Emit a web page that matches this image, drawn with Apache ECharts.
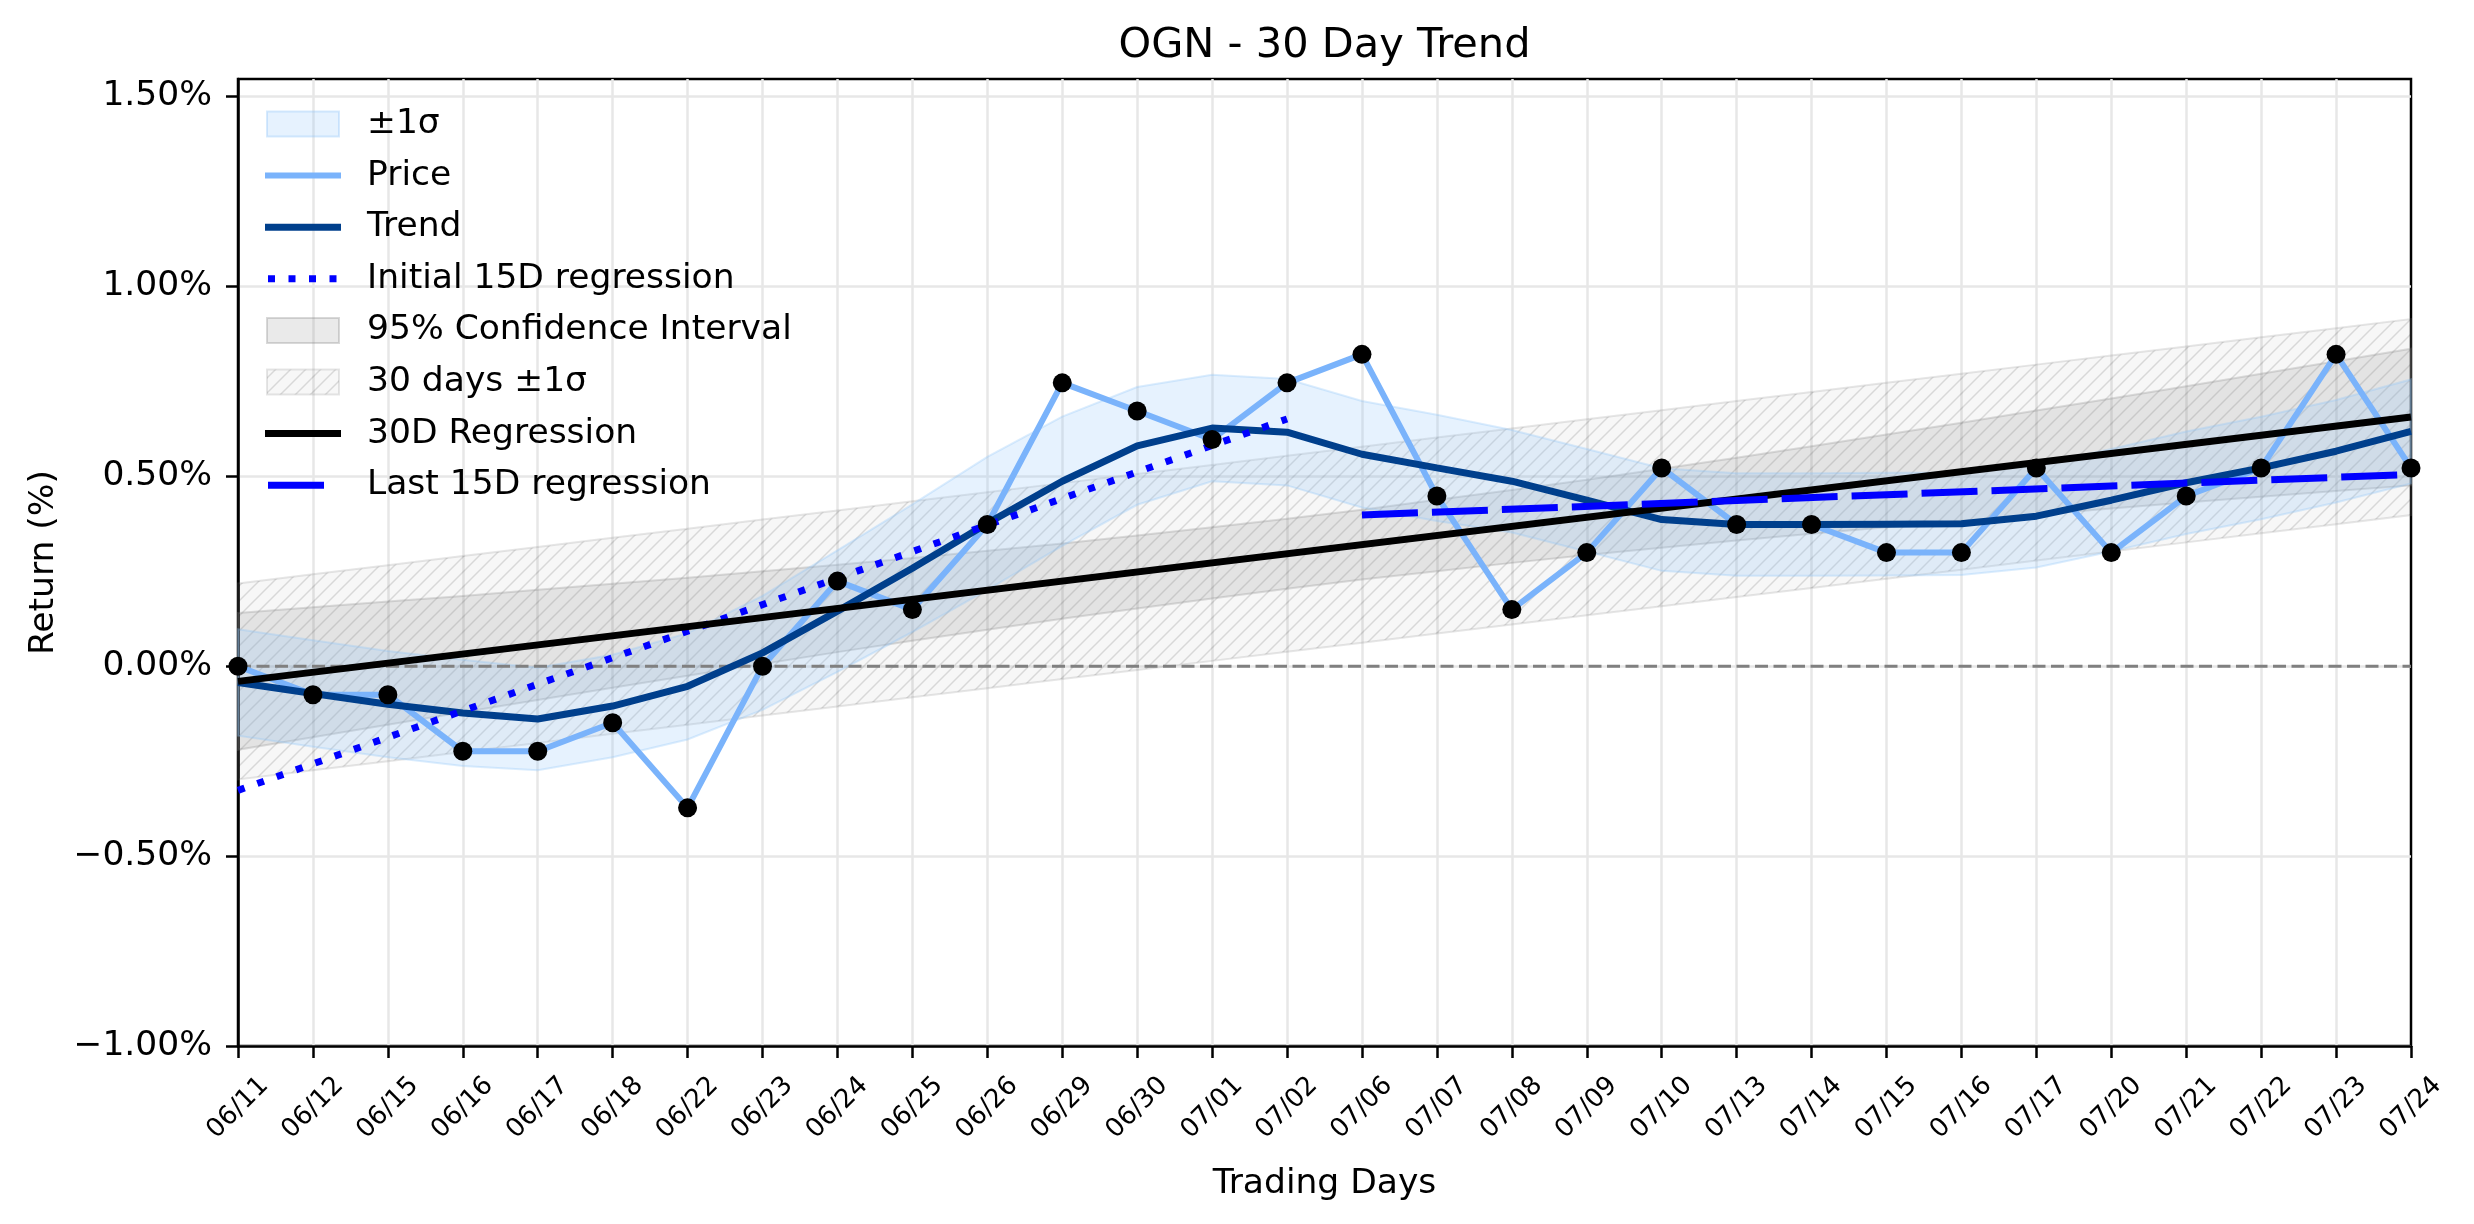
<!DOCTYPE html>
<html>
<head>
<meta charset="utf-8">
<title>OGN - 30 Day Trend</title>
<script src="https://cdn.jsdelivr.net/npm/echarts@6/dist/echarts.min.js"></script>
<style>
	html, body { margin: 0; padding: 0; background: #fff; }
	#chart { width: 2474px; height: 1224px; }
</style>
</head>
<body>
<div id="chart"></div>
<script>
	// trading days (x axis)
	const days = ['06/11', '06/12', '06/15', '06/16', '06/17', '06/18', '06/22', '06/23', '06/24', '06/25',
		'06/26', '06/29', '06/30', '07/01', '07/02', '07/06', '07/07', '07/08', '07/09', '07/10',
		'07/13', '07/14', '07/15', '07/16', '07/17', '07/20', '07/21', '07/22', '07/23', '07/24'];

	// return in %
	const price = [0, -0.075, -0.075, -0.224, -0.224, -0.149, -0.373, 0, 0.224, 0.149,
		0.373, 0.746, 0.672, 0.597, 0.746, 0.821, 0.448, 0.149, 0.299, 0.522,
		0.373, 0.373, 0.299, 0.299, 0.522, 0.299, 0.448, 0.522, 0.821, 0.522];

	const trend = [-0.043, -0.072, -0.100, -0.123, -0.139, -0.105, -0.053, 0.035, 0.145, 0.258,
		0.376, 0.487, 0.580, 0.627, 0.616, 0.558, 0.522, 0.487, 0.437, 0.386,
		0.373, 0.373, 0.374, 0.375, 0.395, 0.437, 0.483, 0.522, 0.566, 0.618];

	// ±1σ band round the trend
	const bandUpper = [0.097, 0.068, 0.040, 0.017, -0.004, 0.030, 0.087, 0.185, 0.305, 0.426,
		0.551, 0.657, 0.735, 0.767, 0.756, 0.698, 0.662, 0.622, 0.572, 0.521,
		0.508, 0.508, 0.509, 0.510, 0.530, 0.572, 0.618, 0.657, 0.701, 0.755];
	const bandLower = [-0.183, -0.212, -0.240, -0.263, -0.274, -0.240, -0.193, -0.115, -0.015, 0.090,
		0.201, 0.317, 0.425, 0.487, 0.476, 0.418, 0.382, 0.352, 0.302, 0.251,
		0.238, 0.238, 0.239, 0.240, 0.260, 0.302, 0.348, 0.387, 0.431, 0.481];

	// 95% confidence interval of the 30D regression
	const ciUpper = [0.140, 0.155, 0.170, 0.185, 0.201, 0.217, 0.233, 0.250, 0.267, 0.285,
		0.304, 0.323, 0.344, 0.366, 0.388, 0.412, 0.438, 0.464, 0.491, 0.520,
		0.549, 0.579, 0.610, 0.641, 0.673, 0.705, 0.737, 0.770, 0.803, 0.836];
	const ciLower = [-0.220, -0.187, -0.154, -0.121, -0.089, -0.057, -0.025, 0.006, 0.037, 0.067,
		0.096, 0.125, 0.152, 0.178, 0.204, 0.228, 0.250, 0.272, 0.293, 0.312,
		0.331, 0.349, 0.366, 0.383, 0.399, 0.415, 0.431, 0.446, 0.461, 0.476];

	// 30 days ±1σ round the 30D regression
	const sigUpper = [0.218, 0.242, 0.266, 0.290, 0.314, 0.338, 0.362, 0.386, 0.410, 0.434,
		0.458, 0.482, 0.506, 0.530, 0.554, 0.578, 0.602, 0.626, 0.650, 0.674,
		0.698, 0.722, 0.746, 0.770, 0.794, 0.818, 0.842, 0.866, 0.890, 0.914];
	const sigLower = [-0.298, -0.274, -0.250, -0.226, -0.202, -0.178, -0.154, -0.130, -0.106, -0.082,
		-0.058, -0.034, -0.010, 0.014, 0.038, 0.062, 0.086, 0.110, 0.134, 0.158,
		0.182, 0.206, 0.230, 0.254, 0.278, 0.302, 0.326, 0.350, 0.374, 0.398];

	// regression lines (end points)
	const reg30Days = ['06/11', '07/24'];
	const reg30 = [-0.040, 0.656];
	const initDays = ['06/11', '07/02'];
	const initReg = [-0.327, 0.651];
	const lastDays = ['07/06', '07/24'];
	const lastReg = [0.398, 0.505];
	const zeroDays = ['06/11', '07/24'];
	const zeroLine = [0, 0];

	const yTicks = [-1, -0.5, 0, 0.5, 1, 1.5];

	const FONT = 'DejaVu Sans';
	const PRICE_COLOR = '#7ab3fb';
	const TREND_COLOR = '#003f8c';
	const BAND_FILL = 'rgba(140, 195, 250, 0.22)';
	const CI_FILL = 'rgba(128, 128, 128, 0.17)';

	// "///" hatch
	function makeHatch () {
		const s = 15;
		const c = document.createElement('canvas');
		c.width = s;
		c.height = s;
		const ctx = c.getContext('2d');
		ctx.fillStyle = 'rgba(0, 0, 0, 0.03)';
		ctx.fillRect(0, 0, s, s);
		ctx.strokeStyle = 'rgba(0, 0, 0, 0.13)';
		ctx.lineWidth = 1.5;
		ctx.beginPath();
		ctx.moveTo(0, s); ctx.lineTo(s, 0);
		ctx.moveTo(-2, 2); ctx.lineTo(2, -2);
		ctx.moveTo(s - 2, s + 2); ctx.lineTo(s + 2, s - 2);
		ctx.stroke();
		return { image: c, repeat: 'repeat' };
	}
	const hatch = makeHatch();

	const pair = (xs, ys) => xs.map((x, i) => [x, ys[i]]);

	function bandSeries (name, upper, lower, style) {
		return {
			name: name,
			type: 'custom',
			silent: true,
			data: upper.map((v, i) => [i, v]),
			renderItem (params, api) {
				if (params.dataIndex !== 0) return null;
				const pts = [];
				for (let i = 0; i < upper.length; i++) pts.push(api.coord([i, upper[i]]));
				for (let i = lower.length - 1; i >= 0; i--) pts.push(api.coord([i, lower[i]]));
				return { type: 'polygon', shape: { points: pts }, style: style };
			}
		};
	}

	function fmtPct (v) {
		if (Math.abs(v * 2 - Math.round(v * 2)) > 1e-6) return '';
		const s = Math.abs(v).toFixed(2) + '%';
		return v < -1e-9 ? '\u2212' + s : s;
	}

	// legend, drawn by hand (matplotlib style, no frame)
	const legendRows = [
		{ text: '±1σ', kind: 'rect', fill: BAND_FILL, stroke: 'rgba(140, 195, 250, 0.35)' },
		{ text: 'Price', kind: 'line', color: PRICE_COLOR, width: 6 },
		{ text: 'Trend', kind: 'line', color: TREND_COLOR, width: 7 },
		{ text: 'Initial 15D regression', kind: 'line', color: '#0000ff', width: 7, dash: [7, 13.5] },
		{ text: '95% Confidence Interval', kind: 'rect', fill: CI_FILL, stroke: 'rgba(128, 128, 128, 0.3)' },
		{ text: '30 days ±1σ', kind: 'rect', fill: hatch, stroke: 'rgba(128, 128, 128, 0.2)' },
		{ text: '30D Regression', kind: 'line', color: '#000', width: 7 },
		{ text: 'Last 15D regression', kind: 'line', color: '#0000ff', width: 7, dash: [56, 14], x2: 324 }
	];
	const legendGraphic = [];
	legendRows.forEach((r, i) => {
		const y = 124 + i * 51.6;
		if (r.kind === 'rect') {
			legendGraphic.push({
				type: 'rect', shape: { x: 267, y: y - 12.5, width: 72, height: 25 },
				style: { fill: r.fill, stroke: r.stroke, lineWidth: 2 }, z: 100
			});
		} else {
			legendGraphic.push({
				type: 'line', shape: { x1: r.dash ? 268 : 265, y1: y, x2: r.x2 || 341, y2: y },
				style: { stroke: r.color, lineWidth: r.width, lineDash: r.dash || null }, z: 100
			});
		}
		legendGraphic.push({
			type: 'text', x: 367, y: y, z: 100,
			style: { text: r.text, font: '34.5px "' + FONT + '"', fill: '#000', verticalAlign: 'middle', align: 'left' }
		});
	});

	const chart = echarts.init(document.getElementById('chart'));

	const option = {
		animation: false,
		backgroundColor: '#fff',
		textStyle: { fontFamily: FONT },
		grid: {
			left: 238,
			right: 63,
			top: 79,
			bottom: 178,
			show: true,
			borderColor: '#000',
			borderWidth: 2.5,
			backgroundColor: 'transparent'
		},
		graphic: [
			{
				type: 'text', x: 1324.5, y: 46,
				style: { text: 'OGN - 30 Day Trend', font: '41.5px "' + FONT + '"', fill: '#000', align: 'center', verticalAlign: 'middle' }
			}
		].concat(legendGraphic),
		xAxis: {
			type: 'category',
			data: days,
			boundaryGap: false,
			name: 'Trading Days',
			nameLocation: 'middle',
			nameGap: 121,
			nameTextStyle: { fontSize: 34.5, color: '#000', fontFamily: FONT },
			axisLine: { onZero: false, lineStyle: { color: '#000', width: 2.5 } },
			axisTick: { show: true, length: 12, lineStyle: { color: '#000', width: 2.5 } },
			axisLabel: {
				interval: 0,
				rotate: 45,
				align: 'center',
				verticalAlign: 'middle',
				margin: 62,
				fontSize: 26,
				color: '#000',
				fontFamily: FONT
			},
			splitLine: {
				show: true,
				// keep the frame black at both ends
				interval: (index) => index !== 0 && index !== days.length - 1,
				lineStyle: { color: '#e7e7e7', width: 2.5 }
			}
		},
		yAxis: {
			type: 'value',
			min: -1,
			max: 1.546,
			interval: 0.5,
			name: 'Return (%)',
			nameLocation: 'middle',
			nameGap: 176,
			nameRotate: 90,
			nameTextStyle: { fontSize: 34.5, color: '#000', fontFamily: FONT },
			axisLine: { show: true, onZero: false, lineStyle: { color: '#000', width: 2.5 } },
			axisTick: { show: true, length: 12, customValues: yTicks, lineStyle: { color: '#000', width: 2.5 } },
			axisLabel: {
				customValues: yTicks,
				formatter: fmtPct,
				margin: 26,
				fontSize: 34.5,
				color: '#000',
				fontFamily: FONT
			},
			splitLine: { show: true, lineStyle: { color: '#e7e7e7', width: 2.5 } }
		},
		series: [
			bandSeries('30 days ±1σ', sigUpper, sigLower, { fill: hatch, stroke: 'rgba(128, 128, 128, 0.2)', lineWidth: 2 }),
			bandSeries('95% Confidence Interval', ciUpper, ciLower, { fill: CI_FILL, stroke: 'rgba(128, 128, 128, 0.25)', lineWidth: 2 }),
			bandSeries('±1σ', bandUpper, bandLower, { fill: BAND_FILL, stroke: 'rgba(140, 195, 250, 0.3)', lineWidth: 2 }),
			{
				name: 'zero',
				type: 'line',
				data: pair(zeroDays, zeroLine),
				showSymbol: false,
				silent: true,
				lineStyle: { color: '#808080', width: 3, type: [13, 5.5] }
			},
			{
				name: 'Price',
				type: 'line',
				data: price,
				showSymbol: false,
				lineStyle: { color: PRICE_COLOR, width: 6 }
			},
			{
				name: 'Trend',
				type: 'line',
				data: trend,
				showSymbol: false,
				lineStyle: { color: TREND_COLOR, width: 7 }
			},
			{
				name: 'Initial 15D regression',
				type: 'line',
				data: pair(initDays, initReg),
				showSymbol: false,
				lineStyle: { color: '#0000ff', width: 7, type: [7, 13.5] }
			},
			{
				name: '30D Regression',
				type: 'line',
				data: pair(reg30Days, reg30),
				showSymbol: false,
				lineStyle: { color: '#000', width: 7 }
			},
			{
				name: 'Last 15D regression',
				type: 'line',
				data: pair(lastDays, lastReg),
				showSymbol: false,
				lineStyle: { color: '#0000ff', width: 7, type: [56, 14] }
			},
			{
				name: 'points',
				type: 'scatter',
				data: price,
				symbol: 'circle',
				symbolSize: 19,
				itemStyle: { color: '#000', opacity: 1 },
				z: 10
			}
		]
	};

	chart.setOption(option);
</script>
</body>
</html>
